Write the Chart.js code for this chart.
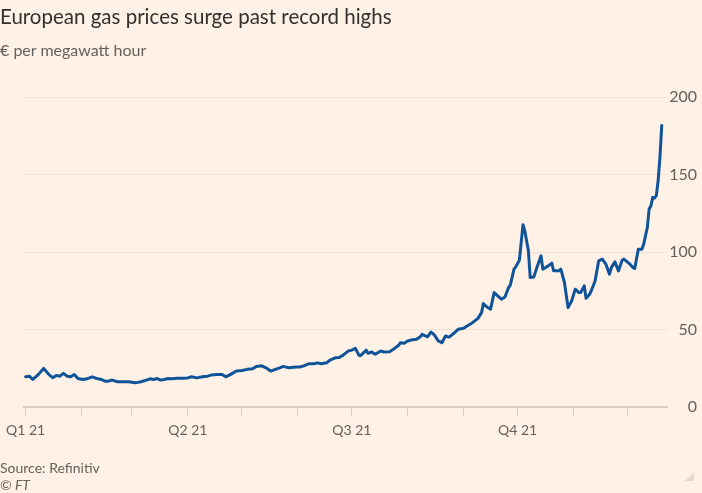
<!DOCTYPE html>
<html>
<head>
<meta charset="utf-8">
<script src="https://cdn.jsdelivr.net/npm/chart.js@4.4.1/dist/chart.umd.min.js"></script>
<style>
  html, body { margin: 0; padding: 0; background: #fff1e5; }
  body { width: 702px; height: 493px; position: relative; overflow: hidden; font-family: Lato, "Noto Sans", sans-serif; }
  #wrap { position: absolute; left: 0; top: 0; width: 702px; height: 493px; }
  .title { position: absolute; left: 0; top: 4px; font-size: 20.5px; color: #33302e; white-space: nowrap; }
  .sub { position: absolute; left: 0; top: 40px; font-size: 16px; color: #66605c; white-space: nowrap; }
  .src { position: absolute; left: 0; top: 459px; font-size: 14px; color: #66605c; }
  .ft { position: absolute; left: 0; top: 476px; font-size: 14px; color: #66605c; font-style: italic; }
  .corner { position: absolute; left: 685px; top: 472px; width: 0; height: 0; border-left: 9px solid transparent; border-bottom: 9px solid #e6d9ce; }
</style>
</head>
<body>
<div id="wrap"><canvas id="c" width="702" height="493"></canvas></div>
<div class="title">European gas prices surge past record highs</div>
<div class="sub">€ per megawatt hour</div>
<div class="src">Source: Refinitiv</div>
<div class="ft">© FT</div>
<div class="corner"></div>
<script>
// Day of 2021 (0 = 1 Jan) and TTF price, € per MWh
const days = [0,2,4,7,10,13,15,17,19,21,23,25,27,29,32,34,37,40,42,44,46,48,51,54,57,61,64,67,69,71,73,75,77,79,81,84,87,90,92,95,98,101,103,106,109,111,113,115,117,120,123,126,128,131,134,136,139,141,143,146,150,152,154,157,160,162,164,167,169,172,174,176,179,181,183,185,186,189,190,192,194,197,199,202,204,207,208,210,212,214,217,219,220,223,225,227,229,231,233,235,238,240,243,245,248,251,253,254,256,258,260,262,264,266,268,269,271,272,274,276,277,279,280,282,284,286,287,290,292,293,296,297,299,301,303,305,307,308,310,311,313,314,316,318,320,322,324,325,327,329,331,332,335,337,338,340,342,343,345,346,347,348,349,350,351,352,353];
const prices = [19.6,20,17.9,21,25,21,19,20.5,20,21.8,20,19.6,21.1,18.5,17.9,18.3,19.6,18.3,17.9,16.8,16.8,17.5,16.4,16.4,16.4,15.7,16.4,17.5,18.3,17.9,18.5,17.5,17.9,18.5,18.3,18.7,18.7,18.9,19.6,18.9,19.6,20,20.7,21.1,21.1,19.6,20.7,22,23.3,23.7,24.4,24.8,26.3,26.7,25,23.3,24.6,25.4,26.3,25.4,25.9,25.9,26.5,28,28,28.6,28,28.6,30.4,31.9,32,33.4,36.2,36.8,37.9,33.4,33.4,36.8,34.7,35.6,34.1,36.2,35.6,35.8,37.3,39.9,41.6,41.2,42.7,43.3,43.8,45.4,47,45.4,48.5,46.3,42.7,41.6,45.9,45.2,48,50.2,50.9,52.4,54.5,57.3,61,66.8,64.6,63.2,73.9,71.8,69.6,71.1,77.1,78.9,89,90.5,94.8,117.6,113.8,100.8,83.6,84,91.1,97.6,89,91.1,92.9,87.9,87.9,89,80.4,64.2,68.5,76.1,73.9,73.9,78.2,70.3,72.9,75.4,81.4,94.4,95.5,92.2,85.8,90,93.7,87.9,94.8,95.5,92.6,90,89.4,101.9,101.9,105.2,115.9,127.8,129.9,135.3,134.9,136.4,146.1,161.2,181.6];
// Month starts (day of year) and their labels
const monthStarts = [0,31,59,90,120,151,181,212,243,273,304,334];
const monthLabels = ['Q1 21','','','Q2 21','','','Q3 21','','','Q4 21','',''];
const yTicks = [0,50,100,150,200];

const points = days.map((d, i) => ({ x: d, y: prices[i] }));

new Chart(document.getElementById('c'), {
  type: 'line',
  data: { datasets: [{
    data: points,
    borderColor: '#0f5499',
    borderWidth: 3,
    pointRadius: 0,
    tension: 0,
    borderJoinStyle: 'round',
    borderCapStyle: 'round',
    fill: false
  }]},
  options: {
    responsive: false,
    animation: false,
    devicePixelRatio: 1,
    layout: { padding: { top: 97, left: 19, right: 5, bottom: 48 } },
    plugins: { legend: { display: false }, tooltip: { enabled: false } },
    scales: {
      x: {
        type: 'linear',
        min: -1,
        max: 356,
        afterBuildTicks: (s) => { s.ticks = monthStarts.map(v => ({ value: v })); },
        grid: { drawOnChartArea: false, drawTicks: true, tickLength: 9, color: '#dccfc3', lineWidth: 1 },
        border: { display: true, color: '#dccfc3', width: 2 },
        ticks: {
          autoSkip: false, maxRotation: 0, padding: 6,
          color: '#66605c', font: { family: 'Lato', size: 14 },
          callback: (v) => { const i = monthStarts.indexOf(v); return i >= 0 ? monthLabels[i] : ''; }
        }
      },
      y: {
        position: 'right',
        min: 0,
        max: 200,
        afterBuildTicks: (s) => { s.ticks = yTicks.map(v => ({ value: v })); },
        grid: { drawTicks: false, color: '#efe2d7', lineWidth: 1 },
        border: { display: false },
        ticks: {
          padding: 1, crossAlign: 'far',
          color: '#66605c', font: { family: 'Lato', size: 16 }
        }
      }
    }
  }
});
</script>
</body>
</html>
